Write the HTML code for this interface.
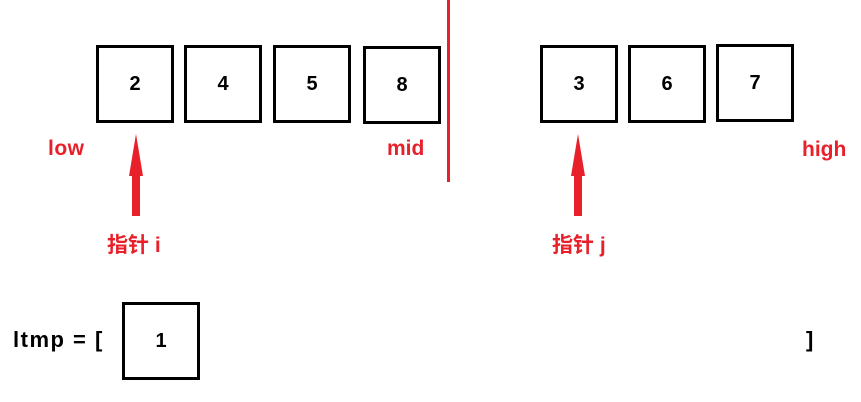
<!DOCTYPE html>
<html><head><meta charset="utf-8"><style>
body{margin:0;width:861px;height:402px;background:#fff;position:relative;overflow:hidden;font-family:"Liberation Sans","Noto Sans CJK SC",sans-serif;font-weight:bold}
.b{position:absolute;width:72px;height:72px;border:3px solid #000;display:flex;align-items:center;justify-content:center;font-size:20px;color:#000}
.t{position:absolute;font-size:21px;line-height:24px}
.r{color:#e8202a}
</style></head><body>
<div class="b" style="left:96px;top:45px">2</div>
<div class="b" style="left:184px;top:45px">4</div>
<div class="b" style="left:273px;top:45px">5</div>
<div class="b" style="left:363px;top:46px">8</div>
<div style="position:absolute;left:447px;top:0;width:3px;height:182px;background:#e8202a"></div>
<div class="b" style="left:540px;top:45px">3</div>
<div class="b" style="left:628px;top:45px">6</div>
<div class="b" style="left:716px;top:44px">7</div>
<div class="t r" style="left:48px;top:137px;letter-spacing:0.5px">low</div>
<div class="t r" style="left:387px;top:137px">mid</div>
<div class="t r" style="left:802px;top:138px">high</div>
<svg style="position:absolute;left:126px;top:134px" width="20" height="84"><polygon points="10,0 17,42 3,42" fill="#e8202a"/><rect x="6" y="40" width="8" height="42" fill="#e8202a"/></svg>
<svg style="position:absolute;left:568px;top:134px" width="20" height="84"><polygon points="10,0 17,42 3,42" fill="#e8202a"/><rect x="6" y="40" width="8" height="42" fill="#e8202a"/></svg>
<div class="t r" style="left:107px;top:234px">指针 i</div>
<div class="t r" style="left:552px;top:234px">指针 j</div>
<div class="t" style="left:13px;top:328px;font-size:22px;letter-spacing:1.5px">ltmp = [</div>
<div class="b" style="left:122px;top:302px">1</div>
<div class="t" style="left:806px;top:328px;font-size:22px">]</div>
</body></html>
